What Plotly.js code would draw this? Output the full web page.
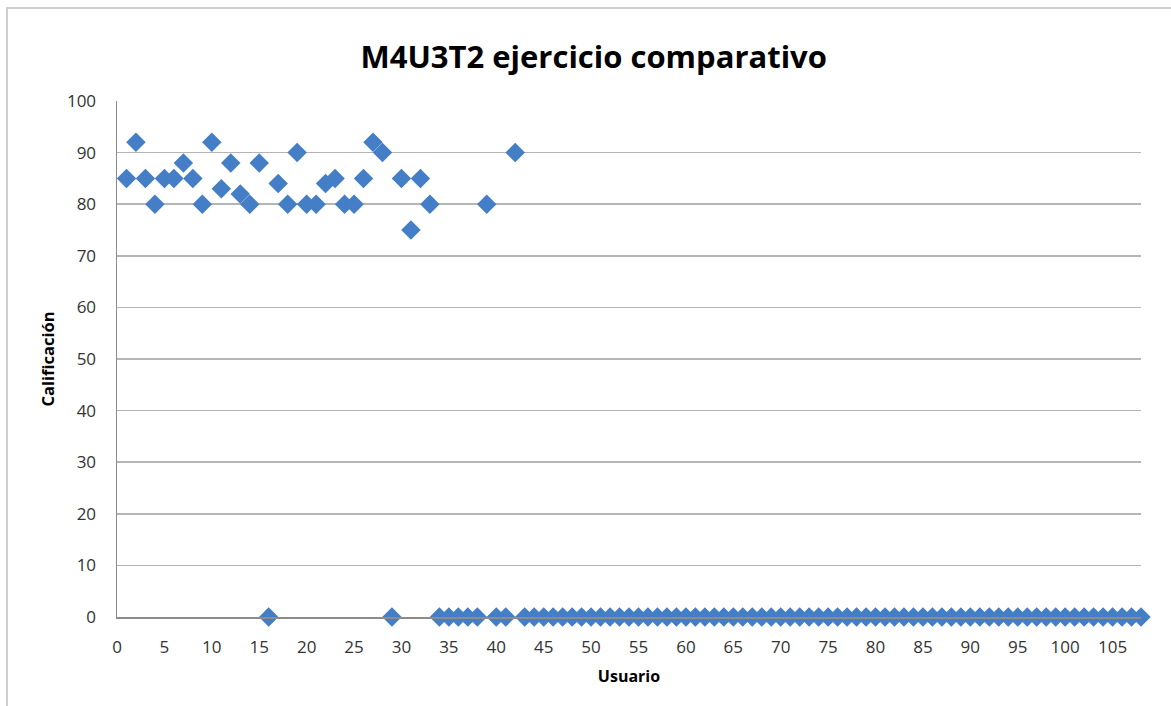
<!DOCTYPE html>
<html>
<head>
<meta charset="utf-8">
<script src="https://cdn.plot.ly/plotly-3.0.1.min.js"></script>
<style>
  html, body { margin: 0; padding: 0; background: #fff; }
  #chart { width: 1171px; height: 706px; }
</style>
</head>
<body>
<div id="chart"></div>
<script>
// Usuario 1..108 and their scores (Calificación)
const usuarios = [];
for (let i = 1; i <= 108; i++) usuarios.push(i);

const calificacionesInicio = [
  85, 92, 85, 80, 85, 85, 88, 85, 80, 92,
  83, 88, 82, 80, 88, 0, 84, 80, 90, 80,
  80, 84, 85, 80, 80, 85, 92, 90, 0, 85,
  75, 85, 80, 0, 0, 0, 0, 0, 80, 0,
  0, 90
];
// Users 43..108 all scored 0
const calificacionesResto = [
  0,0,0,0,0,0,0,0,0,0, 0,0,0,0,0,0,0,0,0,0,
  0,0,0,0,0,0,0,0,0,0, 0,0,0,0,0,0,0,0,0,0,
  0,0,0,0,0,0,0,0,0,0, 0,0,0,0,0,0,0,0,0,0,
  0,0,0,0,0,0
];
const calificaciones = calificacionesInicio.concat(calificacionesResto);

const tituloGrafico = "M4U3T2 ejercicio comparativo";
const tituloX = "Usuario";
const tituloY = "Calificación";

const FONT = "Open Sans, Noto Sans, sans-serif";

const trace = {
  x: usuarios,
  y: calificaciones,
  type: "scatter",
  mode: "markers",
  cliponaxis: false,
  marker: { symbol: "diamond", size: 15, color: "#437ec6", line: { width: 0 } },
  hoverinfo: "x+y"
};

const layout = {
  width: 1171,
  height: 706,
  margin: { l: 117, r: 30, t: 101, b: 89 },
  paper_bgcolor: "#ffffff",
  plot_bgcolor: "#ffffff",
  showlegend: false,
  font: { family: FONT, color: "#333333", size: 17 },
  title: {
    text: "<b>" + tituloGrafico + "</b>",
    font: { family: FONT, size: 31, color: "#000000" },
    xref: "container", x: 0.507, xanchor: "center",
    yref: "container", y: 1 - 57 / 706, yanchor: "middle"
  },
  xaxis: {
    range: [0, 108],
    tick0: 0, dtick: 5,
    showgrid: false,
    zeroline: false,
    showline: true, linecolor: "#8c8c8c", linewidth: 1.5,
    ticks: "",
    ticklabelstandoff: 14,
    tickfont: { family: FONT, size: 17, color: "#333333" },
    title: { text: "<b>" + tituloX + "</b>", font: { family: FONT, size: 16, color: "#000000" }, standoff: 14 }
  },
  yaxis: {
    range: [0, 100],
    tick0: 0, dtick: 10,
    showgrid: true, gridcolor: "#b5b5b5", gridwidth: 1.5,
    zeroline: false,
    showline: true, linecolor: "#8c8c8c", linewidth: 1.5,
    ticks: "",
    ticklabelstandoff: 16,
    tickfont: { family: FONT, size: 17, color: "#333333" },
    title: { text: "<b>" + tituloY + "</b>", font: { family: FONT, size: 16.5, color: "#000000" }, standoff: 8 }
  },
  shapes: [
    {
      type: "rect", xref: "paper", yref: "paper",
      x0: (7 - 117) / 1024, x1: (1200 - 117) / 1024,
      y0: (617 - 720) / 516, y1: (617 - 8) / 516,
      line: { color: "#cfcfcf", width: 2 },
      fillcolor: "rgba(0,0,0,0)",
      layer: "below"
    }
  ]
};

Plotly.newPlot("chart", [trace], layout, { displayModeBar: false, staticPlot: true });
</script>
</body>
</html>
